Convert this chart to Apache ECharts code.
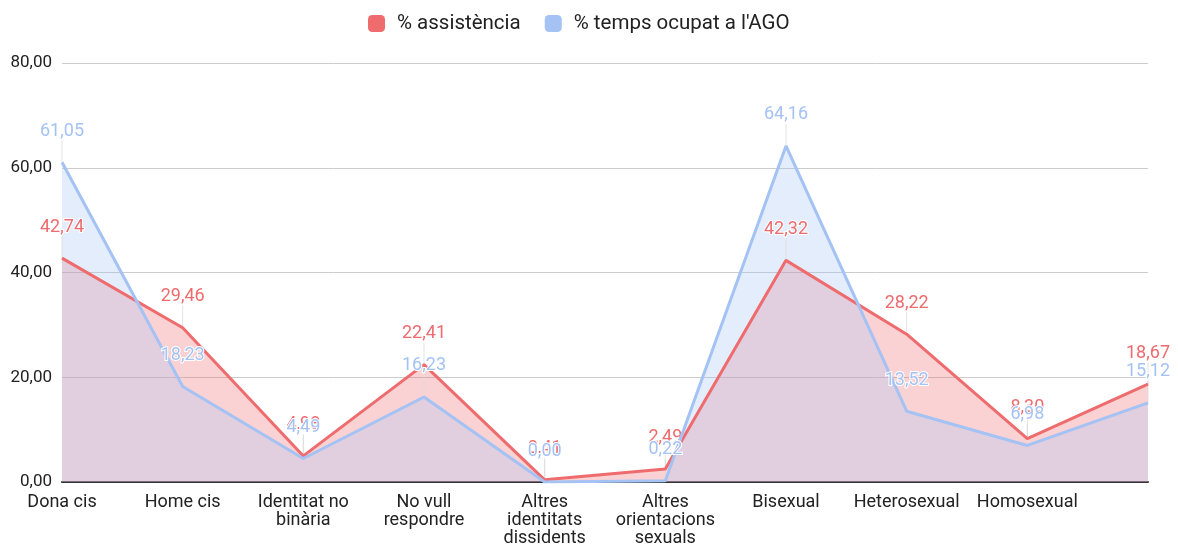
<!DOCTYPE html>
<html><head><meta charset="utf-8">
<script src="https://cdn.jsdelivr.net/npm/echarts@6/dist/echarts.min.js"></script>
<style>html,body{margin:0;padding:0;background:#fff}#c{width:1178px;height:544px}</style>
</head><body><div id="c"></div>
<script>
const categories = ['Dona cis','Home cis','Identitat no\nbinària','No vull\nrespondre','Altres\nidentitats\ndissidents','Altres\norientacions\nsexuals','Bisexual','Heterosexual','Homosexual',''];
const assistencia = [42.74, 29.46, 4.98, 22.41, 0.41, 2.49, 42.32, 28.22, 8.30, 18.67];
const tempsAGO = [61.05, 18.23, 4.49, 16.23, 0.00, 0.22, 64.16, 13.52, 6.98, 15.12];
const yTicks = [0, 20, 40, 60, 80];
const RED = '#ee6b6e', BLUE = '#a4c2f4';
const fmt = v => v.toFixed(2).replace('.', ',');
function areaS(name, data, color) {
  return { name, type: 'line', data, z: 1, symbol: 'none', showSymbol: false, silent: true,
    lineStyle: { width: 0, color }, itemStyle: { color },
    areaStyle: { color, opacity: 0.3 } };
}
function leaderS(name, data) {
  return { name, type: 'scatter', data, z: 2, silent: true,
    symbol: 'rect', symbolSize: [1, 22], symbolOffset: [0, -11],
    itemStyle: { color: '#dcdcdc' } };
}
function lineS(name, data, color, z) {
  return {
    name, type: 'line', data, z,
    symbol: 'circle', symbolSize: 0, showSymbol: true,
    lineStyle: { color, width: 3 },
    itemStyle: { color },
    label: { show: true, position: 'top', distance: 22, color, fontFamily: 'Roboto', fontSize: 18,
      textBorderColor: '#fff', textBorderWidth: 2, formatter: p => fmt(p.value) }
  };
}
const chart = echarts.init(document.getElementById('c'));
chart.setOption({
  animation: false,
  textStyle: { fontFamily: 'Roboto' },
  legend: { top: 8, left: 363, itemWidth: 17, itemHeight: 17, itemGap: 24,
    icon: 'roundRect', textStyle: { fontSize: 20.5, color: '#222', fontFamily: 'Roboto', padding: [0, 0, 0, 7] },
    data: ['% assistència', "% temps ocupat a l'AGO"] },
  grid: { left: 62, right: 30, top: 63, bottom: 62, containLabel: false, outerBoundsMode: 'none' },
  xAxis: { type: 'category', boundaryGap: false, data: categories,
    axisLine: { lineStyle: { color: '#333', width: 2 } }, axisTick: { show: false },
    axisLabel: { interval: 0, color: '#222', fontSize: 18, lineHeight: 18, margin: 11, fontFamily: 'Roboto' } },
  yAxis: { type: 'value', min: 0, max: 80, interval: 20,
    axisLine: { show: false }, axisTick: { show: false },
    splitLine: { lineStyle: { color: '#ccc', width: 1 } },
    axisLabel: { color: '#222', fontSize: 17, margin: 10, fontFamily: 'Roboto',
      formatter: v => yTicks.includes(v) ? fmt(v) : '' } },
  series: [
    areaS('% assistència', assistencia, RED),
    areaS("% temps ocupat a l'AGO", tempsAGO, BLUE),
    leaderS('% assistència', assistencia),
    leaderS("% temps ocupat a l'AGO", tempsAGO),
    lineS('% assistència', assistencia, RED, 3),
    lineS("% temps ocupat a l'AGO", tempsAGO, BLUE, 4)
  ]
});
</script></body></html>
